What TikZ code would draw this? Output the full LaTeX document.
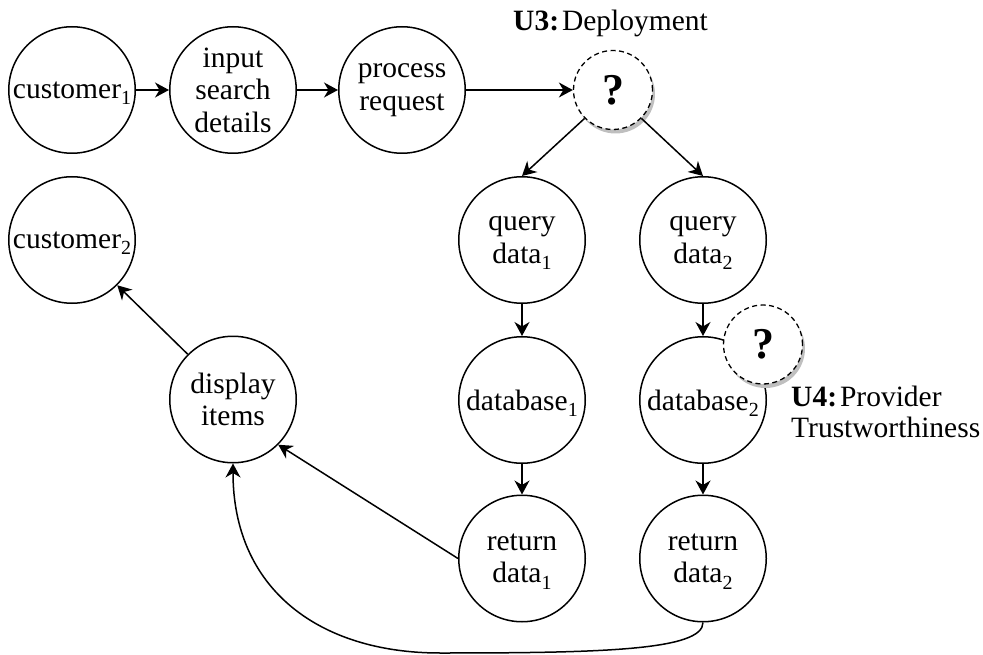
\documentclass[tikz,border=0pt]{standalone}
\usepackage{fontspec}
\setmainfont{Liberation Serif}
\usetikzlibrary{arrows.meta,shadows}
\tikzset{
  proc/.style={draw=black,circle,line width=1.5pt,minimum size=126.5pt,inner sep=0pt,align=center,fill=white},
  unk/.style={draw=black,circle,dashed,dash pattern=on 5pt off 3.5pt,line width=1.3pt,minimum size=79pt,inner sep=0pt,fill=white,
     font=\fontsize{44}{48}\selectfont\bfseries,
     drop shadow={shadow xshift=2.5pt,shadow yshift=-4pt,fill=black!25,opacity=1}},
  lab/.style={align=left,inner sep=0pt,anchor=base west},
  conn/.style={line width=1.5pt,-{Stealth[length=14pt,width=15pt,inset=4.5pt]}}
}
\newcommand{\subn}[1]{\smash{\raisebox{-.22em}{\fontsize{20}{22}\selectfont #1}}}
\begin{document}
\begin{tikzpicture}[x=1pt,y=-1pt,font=\fontsize{29.5}{32.5}\selectfont]
\useasboundingbox (0,0) rectangle (983,655);
\node[proc] (c1) at (72,90) {customer\subn{1}};
\node[proc] (input) at (233,90) {input\\search\\details};
\node[proc] (proc) at (402,90) {process\\request};
\node[proc] (c2) at (72,240) {customer\subn{2}};
\node[proc] (q1) at (522,240) {query\\data\subn{1}};
\node[proc] (q2) at (703,240) {query\\data\subn{2}};
\node[proc] (db1) at (522,400) {database\subn{1}};
\node[proc] (db2) at (703,400) {database\subn{2}};
\node[proc] (r1) at (522,558.5) {return\\data\subn{1}};
\node[proc] (r2) at (703,558.5) {return\\data\subn{2}};
\node[proc] (disp) at (233,399.5) {display\\items};
\node[unk] (u3) at (613,90) {?};
\node[unk] (u4) at (763,344.5) {?};
\node[lab] (l3) at (513,31) {\textbf{U3:}\hspace{.1em}Deployment};
\node[lab] (l4) at (791,406) {\textbf{U4:}\hspace{.1em}Provider};
\node[lab] (l5) at (791,437) {Trustworthiness};
\coordinate (low) at (440,653);
\draw[conn] (c1) -- (input);
\draw[conn] (input) -- (proc);
\draw[conn] (proc.east) -- (u3.west);
\draw[conn] (u3.south west) -- (q1.north);
\draw[conn] (u3.south east) -- (q2.north);
\draw[conn] (q1) -- (db1);
\draw[conn] (q2) -- (db2);
\draw[conn] (db1) -- (r1);
\draw[conn] (db2) -- (r2);
\draw[conn] (r1.west) -- (disp.south east);
\draw[conn] (disp.north west) -- (c2.south east);
\draw[conn] (r2.south) .. controls +(0,28) and (600,653) .. (low) .. controls (320,653) and (233,590) .. (disp.south);
\end{tikzpicture}
\end{document}
